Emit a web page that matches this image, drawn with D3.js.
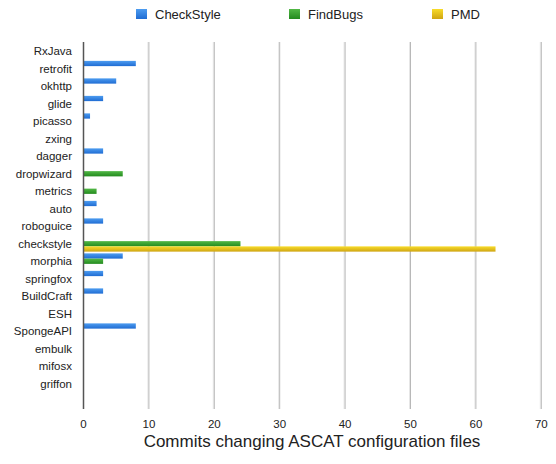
<!DOCTYPE html>
<html>
<head>
<meta charset="utf-8">
<script src="https://cdn.jsdelivr.net/npm/d3@7"></script>
<style>
  body { margin: 0; background: #fff; }
  svg { display: block; font-family: "Liberation Sans", Arial, Helvetica, sans-serif; }
</style>
</head>
<body>
<div id="chart"></div>
<script>
// Commits changing ASCAT config files, per project
const projects = ["RxJava", "retrofit", "okhttp", "glide", "picasso", "zxing", "dagger",
  "dropwizard", "metrics", "auto", "roboguice", "checkstyle", "morphia", "springfox",
  "BuildCraft", "ESH", "SpongeAPI", "embulk", "mifosx", "griffon"]
const series = ["CheckStyle", "FindBugs", "PMD"]
const checkstyleVals = [0, 8, 5, 3, 1, 0, 3, 0, 0, 2, 3, 0, 6, 3, 3, 0, 8, 0, 0, 0]
const findbugsVals   = [0, 0, 0, 0, 0, 0, 0, 6, 2, 0, 0, 24, 3, 0, 0, 0, 0, 0, 0, 0]
const pmdVals        = [0, 0, 0, 0, 0, 0, 0, 0, 0, 0, 0, 63, 0, 0, 0, 0, 0, 0, 0, 0]
const xTicks = [0, 10, 20, 30, 40, 50, 60, 70]

const colors = {
  CheckStyle: ["#4d9cf0", "#1f6cd3"],
  FindBugs: ["#52b846", "#238a1e"],
  PMD: ["#f8dc2a", "#cfa512"]
}

const width = 556
const height = 464
const plotTop = 42
const plotBottom = 409
const plotLeft = 83.5
const plotRight = 541.3

const svg = d3.select("#chart").append("svg")
  .attr("width", width)
  .attr("height", height)

const defs = svg.append("defs")
series.forEach((s, i) => {
  const g = defs.append("linearGradient")
    .attr("id", "grad" + i)
    .attr("x1", 0).attr("y1", 0).attr("x2", 0).attr("y2", 1)
  g.append("stop").attr("offset", "0%").attr("stop-color", colors[s][0])
  g.append("stop").attr("offset", "100%").attr("stop-color", colors[s][1])
})

const x = d3.scaleLinear().domain([0, 70]).range([plotLeft, plotRight])
const y = d3.scaleBand().domain(projects).range([plotTop + 0.5, plotTop + 0.5 + 20 * 17.5])
  .paddingInner(0.1).paddingOuter(0.05)
const ySub = d3.scaleBand().domain(series).range([0, y.bandwidth()])

// gridlines
const grid = svg.append("g")
xTicks.filter(t => t > 0).forEach(t => {
  grid.append("line")
    .attr("x1", x(t) - 1).attr("x2", x(t) - 1)
    .attr("y1", plotTop).attr("y2", plotBottom)
    .attr("stroke", "#e6e6e6").attr("stroke-width", 1)
  grid.append("line")
    .attr("x1", x(t)).attr("x2", x(t))
    .attr("y1", plotTop).attr("y2", plotBottom)
    .attr("stroke", "#b8b8b8").attr("stroke-width", 1)
})

// bars
const rows = projects.map((p, i) => ({
  project: p,
  values: [checkstyleVals[i], findbugsVals[i], pmdVals[i]]
}))

rows.forEach(r => {
  r.values.forEach((v, k) => {
    if (v <= 0) return
    svg.append("rect")
      .attr("x", x(0))
      .attr("y", y(r.project) + ySub(series[k]))
      .attr("width", x(v) - x(0))
      .attr("height", ySub.bandwidth())
      .attr("fill", `url(#grad${k})`)
  })
})

// zero axis line
svg.append("line")
  .attr("x1", x(0)).attr("x2", x(0))
  .attr("y1", plotTop).attr("y2", plotBottom)
  .attr("stroke", "#555").attr("stroke-width", 1.5)

// category labels
svg.append("g").selectAll("text")
  .data(projects)
  .join("text")
  .attr("x", 72)
  .attr("y", d => y(d) + y.bandwidth() / 2 + 4)
  .attr("text-anchor", "end")
  .attr("font-size", "11.5px")
  .attr("fill", "#222")
  .text(d => d)

// x tick labels
svg.append("g").selectAll("text")
  .data(xTicks)
  .join("text")
  .attr("x", d => x(d))
  .attr("y", 428)
  .attr("text-anchor", "middle")
  .attr("font-size", "11.5px")
  .attr("fill", "#222")
  .text(d => d)

// axis title
svg.append("text")
  .attr("x", 312)
  .attr("y", 447)
  .attr("text-anchor", "middle")
  .attr("font-size", "17px")
  .attr("fill", "#222")
  .text("Commits changing ASCAT configuration files")

// legend
const legendX = [136, 289, 432]
series.forEach((s, i) => {
  svg.append("rect")
    .attr("x", legendX[i]).attr("y", 9)
    .attr("width", 11).attr("height", 10)
    .attr("fill", `url(#grad${i})`)
  svg.append("text")
    .attr("x", legendX[i] + 19).attr("y", 19)
    .attr("font-size", "13px")
    .attr("fill", "#222")
    .text(s)
})
</script>
</body>
</html>
